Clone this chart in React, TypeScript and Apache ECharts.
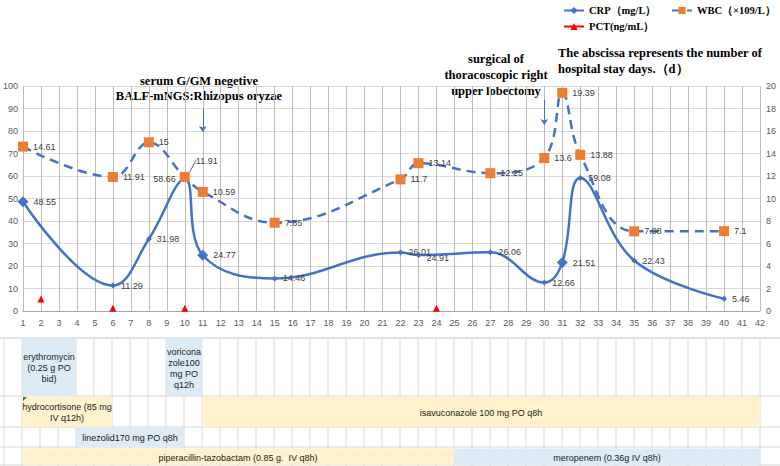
import React, { useEffect, useRef } from "react";
import * as echarts from "echarts";

// ---- data ----
const days = [1, 6, 8, 10, 11, 15, 22, 23, 27, 30, 31, 32, 35, 40];
const crpValues = [48.55, 11.29, 31.98, 58.66, 24.77, 14.46, 26.01, 24.91, 26.06, 12.66, 21.51, 59.08, 22.43, 5.46];
const wbcValues = [14.61, 11.91, 15, 11.91, 10.59, 7.85, 11.7, 13.14, 12.25, 13.6, 19.39, 13.88, 7.08, 7.1];
const pctDays = [2, 6, 10, 24];
const pctValues = [5.3, 1.2, 1.2, 1.2];
const crpBigMarkers = [1, 11, 31];

const arrowDays = [11, 30];
const arrowFrom = [89.8, 93.8];
const arrowTo = [79.6, 82.7];

const drugNames = [
  "erythromycin\n(0.25 g PO\nbid)",
  "voricona\nzole100\nmg PO\nq12h",
  "hydrocortisone (85 mg\nIV q12h)",
  "isavuconazole 100 mg PO q8h",
  "linezolid170 mg PO q8h",
  "piperacillin-tazobactam (0.85 g.  IV q8h)",
  "meropenem (0.36g IV q8h)",
];
const drugStart = [1, 9, 1, 11, 4, 1, 25];
const drugEnd = [4, 11, 6, 42, 10, 25, 42];
const drugRow = [0, 0, 1, 1, 2, 3, 3];
const drugKind = ["blue", "blue", "yellow", "yellow", "blue", "yellow", "blue"];

// table layout (pixel units of the table's own axis)
const ROW_TOP = [0, 58, 89, 110];
const ROW_BOTTOM = [58, 89, 108, 127];
const ROW_LINES = [0, 58, 89, 109, 127];
const FILL: Record<string, string> = { blue: "#DDEBF7", yellow: "#FFF2CC" };

const BLUE = "#4472C4";
const ORANGE = "#ED7D31";
const SERIF = "'Liberation Serif', 'Times New Roman', serif";
const SANS = "'Liberation Sans', Arial, sans-serif";

export default function App() {
  const ref = useRef<HTMLDivElement>(null);
  useEffect(() => {
    document.body.style.margin = "0";
    if (!ref.current) return;
    const chart = echarts.init(ref.current, null, { renderer: "svg" });

    const labelBase = { show: true, fontSize: 9, color: "#404040", fontFamily: SANS };

    const crpData = days.map((d, i) => {
      const item: any = {
        value: [d, crpValues[i]],
        symbolSize: crpBigMarkers.includes(d) ? 11 : 6,
      };
      if (d === 10) {
        item.label = { position: "left", distance: 6 };
        item.labelLine = { show: true, lineStyle: { color: "#404040", width: 0.8 } };
      }
      if (d === 23) {
        item.label = { offset: [0, 3] };
      }
      return item;
    });
    const wbcData = days.map((d, i) => {
      const item: any = { value: [d, wbcValues[i]] };
      if (d === 10) {
        item.label = { position: [16, -16] };
        item.labelLine = { show: true, lineStyle: { color: "#404040", width: 0.8 } };
      }
      return item;
    });

    const barData = drugNames.map((_, i) => [drugStart[i], drugEnd[i], drugRow[i], i]);
    const colLines = Array.from({ length: 43 }, (_, i) => [i, 0]);
    const rowLines = ROW_LINES.map((v) => [1, v]);

    const legendText = { fontFamily: SERIF, fontWeight: "bold", fontSize: 10.5, color: "#000" };
    const legendBase = { itemWidth: 20, itemHeight: 9, textStyle: legendText, itemGap: 5 };

    const option: any = {
      animation: false,
      backgroundColor: "#fff",
      legend: [
        { ...legendBase, data: ["CRP（mg/L）"], left: 558, top: 0 },
        { ...legendBase, data: ["WBC（×109/L）"], left: 666, top: 0 },
        {
          ...legendBase,
          data: [{ name: "PCT(ng/mL）", lineStyle: { width: 2, color: "#FF0000", opacity: 1 } }],
          left: 558,
          top: 16,
        },
      ],
      grid: [
        { left: 22, right: 20, top: 86, height: 225 },
        { left: 22, right: 20, top: 338, height: 127 },
      ],
      xAxis: [
        {
          type: "value",
          gridIndex: 0,
          min: 1,
          max: 42,
          interval: 1,
          axisLine: { show: true, lineStyle: { color: "#a6a6a6" } },
          axisTick: { show: false },
          axisLabel: { fontSize: 9, color: "#595959", margin: 7, fontFamily: SANS },
          splitLine: { show: true, lineStyle: { color: "#bcbcbc", width: 1 } },
        },
        { type: "value", gridIndex: 1, min: 1, max: 42, show: false },
      ],
      yAxis: [
        {
          type: "value",
          gridIndex: 0,
          min: 0,
          max: 100,
          interval: 10,
          axisLine: { show: false },
          axisTick: { show: false },
          axisLabel: { fontSize: 9, color: "#595959", margin: 5, fontFamily: SANS },
          splitLine: { show: true, lineStyle: { color: "#dadada" } },
        },
        {
          type: "value",
          gridIndex: 0,
          min: 0,
          max: 20,
          interval: 2,
          position: "right",
          axisLine: { show: false },
          axisTick: { show: false },
          axisLabel: { fontSize: 9, color: "#595959", margin: 6, fontFamily: SANS },
          splitLine: { show: false },
        },
        { type: "value", gridIndex: 1, min: 0, max: 127, inverse: true, show: false },
      ],
      series: [
        {
          name: "CRP（mg/L）",
          type: "line",
          xAxisIndex: 0,
          yAxisIndex: 0,
          smooth: 0.4,
          symbol: "diamond",
          data: crpData,
          lineStyle: { color: BLUE, width: 2.5 },
          itemStyle: { color: BLUE },
          label: { ...labelBase, position: "right", formatter: (p: any) => p.value[1] },
          z: 3,
          markLine: {
            silent: true,
            symbol: ["none", "arrow"],
            symbolSize: 6,
            label: { show: false },
            lineStyle: { color: BLUE, width: 1, type: "solid" },
            data: arrowDays.map((d, i) => [{ coord: [d, arrowFrom[i]] }, { coord: [d, arrowTo[i]] }]),
          },
        },
        {
          name: "WBC（×109/L）",
          type: "line",
          xAxisIndex: 0,
          yAxisIndex: 1,
          smooth: 0.4,
          symbol: "rect",
          symbolSize: 10,
          data: wbcData,
          lineStyle: { color: BLUE, width: 2.5, type: [9, 6] },
          itemStyle: { color: ORANGE },
          label: { ...labelBase, position: "right", formatter: (p: any) => p.value[1] },
          z: 4,
        },
        {
          name: "PCT(ng/mL）",
          type: "line",
          xAxisIndex: 0,
          yAxisIndex: 0,
          symbol: "triangle",
          symbolSize: 7,
          data: pctDays.map((d, i) => [d, pctValues[i]]),
          lineStyle: { width: 0, opacity: 0, color: "#FF0000" },
          itemStyle: { color: "#FF0000" },
          z: 5,
        },
        {
          type: "custom",
          xAxisIndex: 1,
          yAxisIndex: 2,
          clip: false,
          silent: true,
          z: 1,
          data: colLines,
          renderItem: (params: any, api: any) => {
            const a = api.coord([api.value(0), 0]);
            const b = api.coord([api.value(0), 127]);
            return {
              type: "line",
              shape: { x1: a[0], y1: a[1], x2: b[0], y2: b[1] + 1 },
              style: { stroke: "#dcdcdc", lineWidth: 1 },
            };
          },
        },
        {
          type: "custom",
          xAxisIndex: 1,
          yAxisIndex: 2,
          clip: false,
          silent: true,
          z: 1,
          data: rowLines,
          renderItem: (params: any, api: any) => {
            const a = api.coord([1, api.value(1)]);
            return {
              type: "line",
              shape: { x1: 0, y1: a[1], x2: api.getWidth(), y2: a[1] },
              style: { stroke: api.value(1) === 0 ? "#e3e3e3" : "#d6d6d6", lineWidth: api.value(1) === 0 ? 2 : 1 },
            };
          },
        },
        {
          type: "custom",
          xAxisIndex: 1,
          yAxisIndex: 2,
          clip: false,
          silent: true,
          z: 2,
          encode: { x: [0, 1], y: 2 },
          data: barData,
          renderItem: (params: any, api: any) => {
            const idx = api.value(3);
            const row = api.value(2);
            const s = api.coord([api.value(0), ROW_TOP[row]]);
            const e = api.coord([api.value(1), ROW_BOTTOM[row]]);
            return {
              type: "group",
              children: [
                {
                  type: "rect",
                  shape: { x: s[0], y: s[1] + 0.5, width: e[0] - s[0], height: e[1] - s[1] - 0.5 },
                  style: { fill: FILL[drugKind[idx]] },
                },
                {
                  type: "text",
                  style: {
                    text: drugNames[idx],
                    x: (s[0] + e[0]) / 2,
                    y: (s[1] + e[1]) / 2 + 1,
                    align: "center",
                    verticalAlign: "middle",
                    fontSize: 9,
                    lineHeight: 11,
                    fontFamily: SANS,
                    fill: "#222",
                  },
                },
              ],
            };
          },
        },
      ],
      graphic: [
        {
          type: "text",
          x: 199,
          y: 81,
          style: { text: "serum G/GM negetive", align: "center", verticalAlign: "middle", font: `bold 12.5px ${SERIF}`, fill: "#000" },
        },
        {
          type: "text",
          x: 199,
          y: 96,
          style: { text: "BALF-mNGS:Rhizopus oryzae", align: "center", verticalAlign: "middle", font: `bold 12.5px ${SERIF}`, fill: "#000" },
        },
        {
          type: "text",
          x: 496,
          y: 59,
          style: { text: "surgical of", align: "center", verticalAlign: "middle", font: `bold 12.5px ${SERIF}`, fill: "#000" },
        },
        {
          type: "text",
          x: 496,
          y: 75,
          style: { text: "thoracoscopic right", align: "center", verticalAlign: "middle", font: `bold 12.5px ${SERIF}`, fill: "#000" },
        },
        {
          type: "text",
          x: 496,
          y: 91,
          style: { text: "upper lobectomy", align: "center", verticalAlign: "middle", font: `bold 12.5px ${SERIF}`, fill: "#000" },
        },
        {
          type: "text",
          x: 558,
          y: 53,
          style: { text: "The abscissa represents the number of", align: "left", verticalAlign: "middle", font: `bold 12.5px ${SERIF}`, fill: "#000" },
        },
        {
          type: "text",
          x: 558,
          y: 69,
          style: { text: "hospital stay days.（d）", align: "left", verticalAlign: "middle", font: `bold 12.5px ${SERIF}`, fill: "#000" },
        },
        {
          type: "polygon",
          z: 100,
          shape: { points: [[23, 397], [27, 397], [23, 401]] },
          style: { fill: "#2e7d32" },
        },
      ],
    };
    chart.setOption(option);
    return () => chart.dispose();
  }, []);
  return <div ref={ref} style={{ width: 780, height: 466 }} />;
}
